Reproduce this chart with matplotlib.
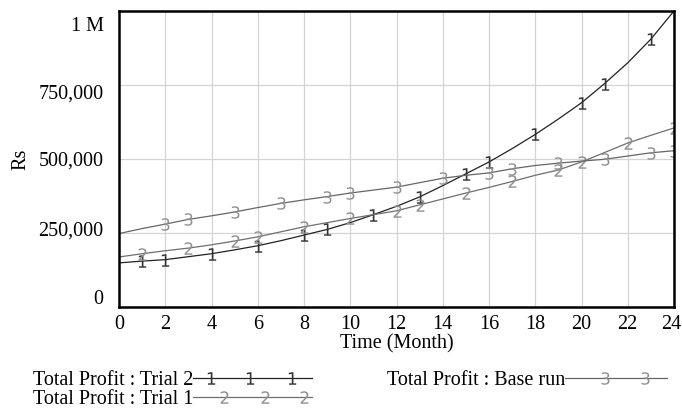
import matplotlib
matplotlib.use("Agg")
import matplotlib.pyplot as plt
from matplotlib.lines import Line2D
from matplotlib.legend_handler import HandlerBase
from matplotlib.transforms import ScaledTranslation

plt.rcParams["font.family"] = "Liberation Serif"

# monthly values, Rs
months = list(range(25))
trial2 = [149000, 155000, 160000, 170000, 180000, 193000, 207000, 224000, 243000,
          262000, 285000, 312000, 340000, 372000, 410000, 450000, 490000, 535000,
          583000, 635000, 690000, 755000, 825000, 905000, 1000000]
trial1 = [169000, 180000, 190000, 199000, 210000, 223000, 237000, 254000, 271000,
          285000, 299000, 312000, 325000, 345000, 365000, 385000, 404000, 424000,
          445000, 463000, 490000, 522000, 554000, 580000, 605000]
base_run = [248000, 265000, 280000, 296000, 308000, 321000, 336000, 350000, 362000,
            373000, 385000, 395000, 405000, 420000, 435000, 445000, 453000, 467000,
            478000, 486000, 493000, 499000, 510000, 521000, 528000]

# where the number labels sit on each line
marks_trial2 = [1, 2, 4, 6, 8, 9, 11, 13, 15, 16, 18, 20, 21, 23]
marks_trial1 = [1, 3, 5, 6, 8, 10, 12, 13, 15, 17, 19, 20, 22, 24]
marks_base = [2, 3, 5, 7, 9, 10, 12, 14, 16, 17, 19, 21, 23, 24]

yticks = [0, 250000, 500000, 750000, 1000000]
ytick_labels = ["0", "250,000", "500,000", "750,000", "1 M"]
xticks = list(range(0, 25, 2))

# label, values, marker indices, marker, line colour, marker colour,
# legend marker fractions, legend line span
series = [
    ("Total Profit : Trial 2", trial2, marks_trial2, "$1$", "#222222", "#333333", [0.15, 0.48, 0.83], 1.0),
    ("Total Profit : Trial 1", trial1, marks_trial1, "$2$", "#6e6e6e", "#909090", [0.26, 0.6, 0.93], 1.0),
    ("Total Profit : Base run", base_run, marks_base, "$3$", "#666666", "#909090", [0.34, 0.67], 0.86),
]

FS = 14.5


class NumberedLine(HandlerBase):
    """Legend key: a line with number labels at given fractions."""

    def __init__(self, fracs, span):
        super().__init__()
        self.fracs = fracs
        self.span = span

    def create_artists(self, legend, orig, xdescent, ydescent, width, height, fontsize, trans):
        y = height / 2 - ydescent
        line = Line2D([-xdescent, self.span * width - xdescent], [y, y],
                      color=orig.get_color(), linewidth=orig.get_linewidth())
        marks = Line2D([-xdescent + f * width for f in self.fracs], [y] * len(self.fracs),
                       linestyle="none", marker=orig.get_marker(),
                       markersize=orig.get_markersize(), markeredgewidth=0,
                       markerfacecolor=orig.get_markerfacecolor())
        line.set_transform(trans)
        marks.set_transform(trans)
        return [line, marks]


fig = plt.figure(figsize=(6.82, 4.12), dpi=100)
ax = fig.add_axes([119 / 682, 1 - 307 / 412, 555 / 682, 296 / 412])

handles = []
hmap = {}
for label, vals, marks, mk, lc, mc, fracs, span in series:
    ax.plot(months, vals, color=lc, linewidth=0.9, marker=mk, markevery=marks,
            markersize=9, markeredgewidth=0, markerfacecolor=mc)
    h = Line2D([], [], color=lc, linewidth=0.9, marker=mk, markersize=9,
               markerfacecolor=mc, label=label)
    handles.append(h)
    hmap[h] = NumberedLine(fracs, span)

ax.set_xlim(0, 24)
ax.set_ylim(0, 1000000)
ax.set_xticks(xticks)
ax.set_yticks(yticks)
ax.set_yticklabels(ytick_labels)
ax.grid(True, color="#d4d4d4", linewidth=0.9)
ax.tick_params(length=0, labelsize=FS, pad=11)
ax.tick_params(axis="x", pad=6)
for sp in ax.spines.values():
    sp.set_linewidth(1.8)
    sp.set_color("black")

# the y labels sit a little off their grid lines, as in the source chart
offsets_px = [10, 4, 0, -7, -13]
for lbl, dy in zip(ax.get_yticklabels(), offsets_px):
    lbl.set_transform(lbl.get_transform() + ScaledTranslation(0, dy / 100, fig.dpi_scale_trans))
last = ax.get_xticklabels()[-1]
last.set_transform(last.get_transform() + ScaledTranslation(-3 / 100, 0, fig.dpi_scale_trans))

ax.set_xlabel("Time (Month)", fontsize=FS, labelpad=0)
ax.set_ylabel("Rs", fontsize=FS, labelpad=6)

fig.legend(handles=handles, handler_map=hmap, loc="upper left",
           bbox_to_anchor=(33 / 682, 1 - 371 / 412),
           ncol=2, frameon=False, markerfirst=False, handlelength=5.9,
           handletextpad=0.0, columnspacing=3.7, labelspacing=0.0, fontsize=FS,
           borderpad=0.0, borderaxespad=0.0)

fig.savefig("out.png", dpi=100)
